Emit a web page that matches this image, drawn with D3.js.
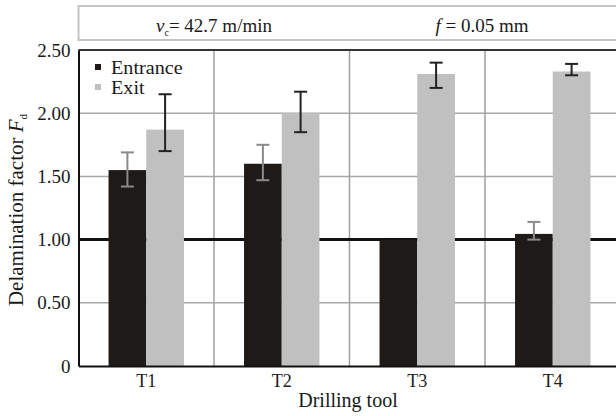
<!DOCTYPE html>
<html>
<head>
<meta charset="utf-8">
<script src="https://cdn.jsdelivr.net/npm/d3@7"></script>
<style>
  html, body { margin: 0; padding: 0; background: #fff; }
  svg { display: block; }
  text { font-family: "Liberation Serif", "Times New Roman", serif; fill: #1a1a1a; }
</style>
</head>
<body>
<svg id="chart" width="616" height="416"></svg>
<script>
// Drilling tools on the x axis
const categories = ["T1", "T2", "T3", "T4"];
const seriesNames = ["Entrance", "Exit"];

// Mean delamination factor Fd per tool
const entranceValues = [1.55, 1.60, 1.00, 1.045];
const exitValues = [1.87, 2.00, 2.31, 2.33];

// Error bar extents (low / high); null = no error bar
const entranceLow = [1.42, 1.47, null, 1.00];
const entranceHigh = [1.69, 1.75, null, 1.14];
const exitLow = [1.70, 1.85, 2.20, 2.30];
const exitHigh = [2.15, 2.17, 2.40, 2.39];

const yTicks = [0, 0.5, 1.0, 1.5, 2.0, 2.5];
const yTickLabels = ["0", "0.50", "1.00", "1.50", "2.00", "2.50"];
const referenceLevel = 1.0;

const svg = d3.select("#chart");
const plot = { left: 78.5, right: 620.5, top: 50, bottom: 366 };

const x = d3.scaleBand().domain(categories).range([plot.left, plot.right]).paddingInner(0).paddingOuter(0);
const xs = d3.scaleBand().domain(seriesNames).range([0, x.bandwidth()]).paddingInner(0).paddingOuter(0.797);
const y = d3.scaleLinear().domain([0, 2.5]).range([plot.bottom, plot.top]);

const colors = { Entrance: "#1e1a17", Exit: "#c0c0c0" };
const errColors = { Entrance: "#8a8a8a", Exit: "#222" };

// Header box with cutting conditions
svg.append("rect")
  .attr("x", plot.left).attr("y", 6)
  .attr("width", 616 - plot.left + 10).attr("height", 34)
  .attr("fill", "#fff").attr("stroke", "#c4c4c4").attr("stroke-width", 2);

const h1 = svg.append("text").attr("x", 214).attr("y", 31.5).attr("text-anchor", "middle").style("font-size", "19px");
h1.append("tspan").style("font-style", "italic").text("v");
h1.append("tspan").attr("dy", 4).style("font-size", "10px").text("c");
h1.append("tspan").attr("dy", -4).text("= 42.7 m/min");

const h2 = svg.append("text").attr("x", 482).attr("y", 31.5).attr("text-anchor", "middle").style("font-size", "19px");
h2.append("tspan").style("font-style", "italic").text("f");
h2.append("tspan").text(" = 0.05 mm");

// Horizontal gridlines
svg.append("g").selectAll("line")
  .data(yTicks.filter(t => t > 0 && t < 2.5 && t !== referenceLevel))
  .join("line")
  .attr("x1", plot.left).attr("x2", plot.right)
  .attr("y1", d => y(d)).attr("y2", d => y(d))
  .attr("stroke", "#a8a8a8").attr("stroke-width", 1.5);

// Vertical separators between tools
svg.append("g").selectAll("line")
  .data(categories.slice(1))
  .join("line")
  .attr("x1", d => x(d)).attr("x2", d => x(d))
  .attr("y1", plot.top).attr("y2", plot.bottom)
  .attr("stroke", "#a0a0a0").attr("stroke-width", 1.5);

// Reference line at Fd = 1
svg.append("line")
  .attr("x1", plot.left).attr("x2", plot.right)
  .attr("y1", y(referenceLevel)).attr("y2", y(referenceLevel))
  .attr("stroke", "#111").attr("stroke-width", 3);

// Bars
const rows = categories.map((c, i) => ({
  cat: c,
  items: [
    { s: "Entrance", v: entranceValues[i], lo: entranceLow[i], hi: entranceHigh[i] },
    { s: "Exit", v: exitValues[i], lo: exitLow[i], hi: exitHigh[i] }
  ]
}));

const groups = svg.append("g").selectAll("g")
  .data(rows).join("g")
  .attr("transform", d => `translate(${x(d.cat)},0)`);

groups.selectAll("rect")
  .data(d => d.items).join("rect")
  .attr("x", d => xs(d.s)).attr("width", xs.bandwidth())
  .attr("y", d => y(d.v)).attr("height", d => y(0) - y(d.v))
  .attr("fill", d => colors[d.s]);

// Error bars
const eb = groups.selectAll("g.err")
  .data(d => d.items.filter(it => it.lo !== null)).join("g")
  .attr("class", "err")
  .attr("stroke", d => errColors[d.s]).attr("stroke-width", 2);
const cap = 6.5;
eb.append("line")
  .attr("x1", d => xs(d.s) + xs.bandwidth() / 2).attr("x2", d => xs(d.s) + xs.bandwidth() / 2)
  .attr("y1", d => y(d.lo)).attr("y2", d => y(d.hi));
eb.append("line")
  .attr("x1", d => xs(d.s) + xs.bandwidth() / 2 - cap).attr("x2", d => xs(d.s) + xs.bandwidth() / 2 + cap)
  .attr("y1", d => y(d.hi)).attr("y2", d => y(d.hi));
eb.append("line")
  .attr("x1", d => xs(d.s) + xs.bandwidth() / 2 - cap).attr("x2", d => xs(d.s) + xs.bandwidth() / 2 + cap)
  .attr("y1", d => y(d.lo)).attr("y2", d => y(d.lo));

// Plot frame top edge
svg.append("line").attr("x1", plot.left).attr("x2", plot.right).attr("y1", plot.top).attr("y2", plot.top)
  .attr("stroke", "#333").attr("stroke-width", 2);

// Y axis
const yAxis = svg.append("g").attr("transform", `translate(${plot.left},0)`)
  .call(d3.axisLeft(y).tickValues(yTicks).tickSize(0).tickPadding(8)
    .tickFormat((d, i) => yTickLabels[i]));
yAxis.select(".domain").attr("stroke", "#111").attr("stroke-width", 2);
yAxis.selectAll("text").attr("font-family", "Liberation Serif, serif")
  .style("font-size", "19px").attr("fill", "#1a1a1a");

// X axis
const xAxis = svg.append("g").attr("transform", `translate(0,${plot.bottom})`)
  .call(d3.axisBottom(x).tickSize(0).tickPadding(8));
xAxis.select(".domain").attr("stroke", "#111").attr("stroke-width", 2);
xAxis.selectAll("text").attr("font-family", "Liberation Serif, serif")
  .style("font-size", "18px").attr("fill", "#1a1a1a");

// Axis titles
svg.append("text").attr("x", 348).attr("y", 407).attr("text-anchor", "middle")
  .style("font-size", "20px").text("Drilling tool");

const yt = svg.append("text").attr("transform", "translate(23,210) rotate(-90)")
  .attr("text-anchor", "middle").style("font-size", "21px");
yt.append("tspan").text("Delamination factor ");
yt.append("tspan").style("font-style", "italic").text("F");
yt.append("tspan").attr("dy", 4).style("font-size", "11px").text("d");

// Legend
const legend = svg.append("g").selectAll("g")
  .data(seriesNames).join("g")
  .attr("transform", (d, i) => `translate(95,${64 + i * 20})`);
legend.append("rect").attr("width", 6).attr("height", 6).attr("fill", d => colors[d]);
legend.append("text")
  .attr("transform", "translate(16,9.5) scale(1.12,1)")
  .style("font-size", "18px").text(d => d);
</script>
</body>
</html>
